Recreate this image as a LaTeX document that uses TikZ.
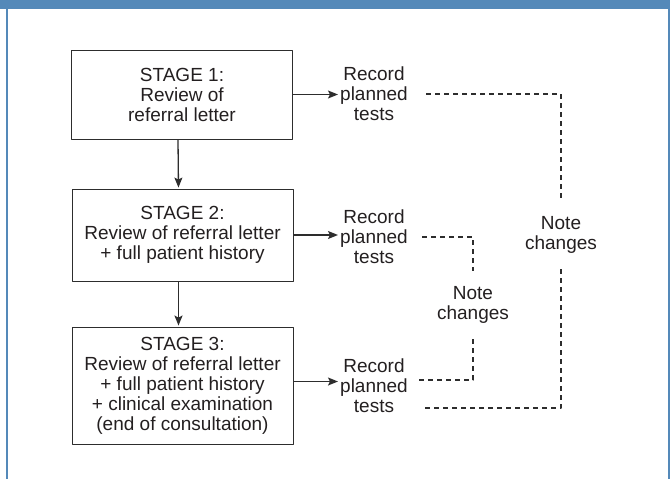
\documentclass[tikz,border=0pt]{standalone}
\usepackage{fontspec}
\setmainfont{Liberation Sans}
\usetikzlibrary{arrows.meta}
\definecolor{frameblue}{RGB}{84,137,185}
\definecolor{boxline}{RGB}{45,45,45}
\definecolor{textgray}{RGB}{35,31,32}
\tikzset{
  stagebox/.style={draw=boxline, line width=0.9pt, minimum width=221pt, inner sep=0pt, align=center},
  plantext/.style={align=center, inner sep=2pt},
  notetext/.style={align=center, inner sep=0pt, minimum height=68pt},
  notedash/.style={line width=1.7pt, dash pattern=on 5pt off 4pt, line cap=butt}
}
\begin{document}
\begin{tikzpicture}[x=1pt, y=-1pt, line join=round, >={Stealth[length=10pt,width=8pt,inset=2pt]}, font=\fontsize{19}{20}\selectfont, text=textgray]
    \useasboundingbox (0,0) rectangle (670,479);
    % frame
    \fill[frameblue] (0,0) rectangle (670,9);
    \fill[frameblue] (6,9) rectangle (8.3,479);
    \fill[frameblue] (668,9) rectangle (670,479);
    % stages
    \node[stagebox, minimum height=89pt] (st1) at (182,94.5) {STAGE 1:\\Review of\\referral letter};
    \node[stagebox, minimum height=92pt] (st2) at (182.5,235) {STAGE 2:\\Review of referral letter\\+ full patient history};
    \node[stagebox, minimum height=117pt] (st3) at (182.5,385.5) {STAGE 3:\\Review of referral letter\\+ full patient history\\+ clinical examination\\(end of consultation)};
    \foreach \i/\j in {1/2, 2/3}\draw[->, line width=1.3pt, boxline, shorten >=1pt] ([xshift=-4pt]st\i.south) -- ([xshift=-4pt]st\j.north);
    % planned tests
    \node[plantext] (rec1) at (374,94) {Record\\planned\\tests};
    \node[plantext] (rec2) at (374,237) {Record\\planned\\tests};
    \node[plantext] (rec3) at (374,386) {Record\\planned\\tests};
    \foreach \i in {1,2}\draw[->, line width=1.3pt, boxline] (st\i.east) -- (st\i.east -| rec\i.west);
    \draw[->, line width=1.3pt, boxline] ([yshift=4pt]st3.east) -- ([yshift=4pt]st3.east -| rec3.west);
    % note changes
    \node[notetext] (noteR) at (561,235) {Note\\changes};
    \node[notetext] (noteM) at (473,305) {Note\\changes};
    \draw[notedash, boxline] ([xshift=16pt]rec1.east) -| (noteR.north);
    \draw[notedash, boxline] (noteR.south) |- ([xshift=11pt,yshift=-22pt]rec3.east);
    \draw[notedash, boxline] ([xshift=12pt]rec2.east) -| (noteM.north);
    \draw[notedash, boxline] (noteM.south) |- ([xshift=8pt,yshift=6pt]rec3.east);
\end{tikzpicture}
\end{document}
